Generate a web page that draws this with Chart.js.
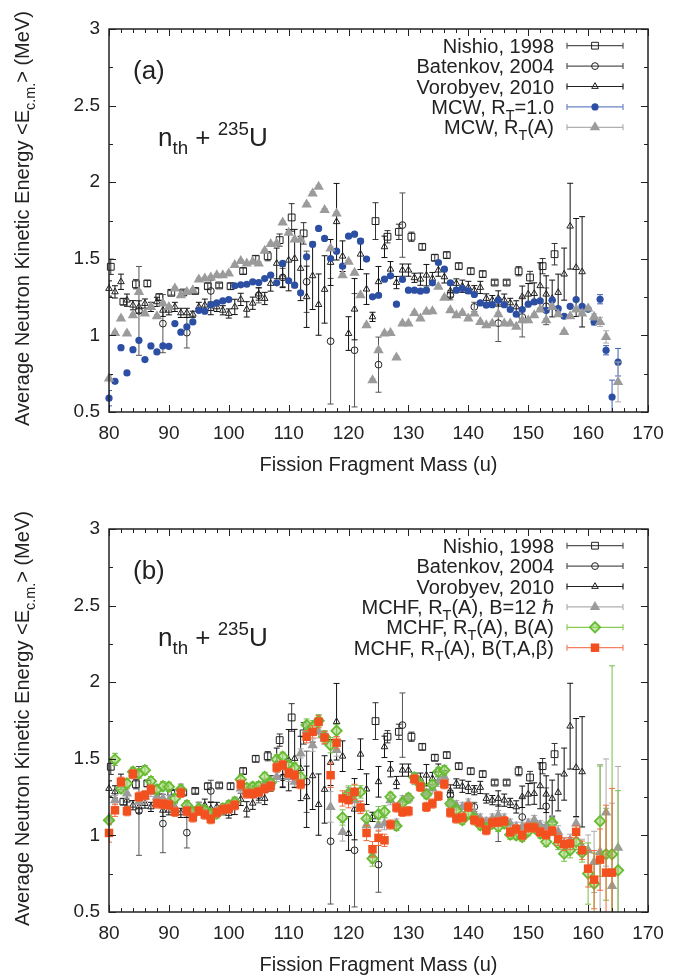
<!DOCTYPE html>
<html>
<head>
<meta charset="utf-8">
<script src="https://cdn.jsdelivr.net/npm/chart.js@4/dist/chart.umd.min.js"></script>
<style>
  body { margin: 0; background: #fff; }
  canvas { display: block; }
</style>
</head>
<body>
<canvas id="chartA" width="696" height="500"></canvas>
<canvas id="chartB" width="696" height="479"></canvas>
<script>
// ---- data ----
var nishioMass = [80.3, 82.4, 84.5, 86.4, 88.4, 90.4, 92.4, 94.4, 96.5, 98.4, 100.3, 102.4, 104.5, 106.5, 108.5, 110.5, 112.5,
	124.5, 126.5, 128.4, 130.5, 132.3, 134.4, 136.4, 138.4, 140.4, 142.4, 144.4, 146.4, 148.4, 150.3, 152.4, 154.4];
var nishioE = [1.448, 1.22, 1.334, 1.339, 1.25, 1.278, 1.28, 1.29, 1.321, 1.326, 1.321, 1.42, 1.50, 1.517, 1.622, 1.77, 1.666,
	1.746, 1.644, 1.676, 1.644, 1.578, 1.507, 1.524, 1.452, 1.419, 1.40, 1.345, 1.345, 1.419, 1.378, 1.452, 1.53];
var nishioErr = [.05, .02, .03, .02, .02, .015, .015, .015, .02, .015, .02, .02, .02, .03, .04, .09, .07,
	.12, .04, .05, .03, .02, .02, .02, .02, .02, .02, .015, .015, .03, .04, .05, .07];

var batenkovMass = [85, 89, 93, 97, 105, 109, 113, 117, 121, 125, 129, 137, 141, 145, 149, 153];
var batenkovE = [1.16, 1.077, 1.018, 1.29, 1.262, 1.378, 1.35, .962, .903, .809, 1.72, 1.262, 1.186, 1.08, 1.12, 1.19];
var batenkovErr = [.29, .19, .1, .07, .05, .06, .2, .41, .37, .18, .21, .03, .03, .12, .13, .12];

var vorobyevMass = [80, 81, 82, 83, 84, 85, 86, 87, 88, 89, 90, 91, 92, 93, 94, 95, 96, 97, 98, 99,
	100, 101, 102, 103, 104, 105, 106, 107, 108, 109, 110, 111, 112, 113, 114, 115, 116, 117, 118, 119,
	120, 121, 122, 123, 124, 125, 126, 127, 128, 129, 130, 131, 132, 133, 134, 135, 136, 137, 138, 139,
	140, 141, 142, 143, 144, 145, 146, 147, 148, 149, 150, 151, 152, 153, 154, 155, 156, 157, 158, 159];
var vorobyevE = [1.306, 1.284, 1.35, 1.23, 1.197, 1.186, 1.208, 1.186, 1.219, 1.164,
	1.164, 1.186, 1.147, 1.147, 1.138, 1.186, 1.197, 1.175, 1.186, 1.164,
	1.143, 1.186, 1.235, 1.17, 1.21, 1.27, 1.241, 1.339, 1.47, 1.382,
	1.491, 1.502, 1.437, 1.252, 1.389, 1.201, 1.30, 1.476, 1.742, 1.517,
	1.012, 1.171, 1.53, 1.302, 1.121, 1.35, 1.578, 1.432, 1.345, 1.426,
	1.426, 1.376, 1.367, 1.393, 1.371, 1.426, 1.382, 1.29, 1.339, 1.321,
	1.313, 1.295, 1.313, 1.241, 1.23, 1.241, 1.23, 1.212, 1.186, 1.252,
	1.269, 1.273, 1.324, 1.269, 1.241, 1.28, 1.40, 1.713, 1.443, 1.415];
var vorobyevErr = [.05, .04, .05, .04, .03, .04, .03, .03, .03, .04,
	.03, .03, .03, .03, .02, .03, .04, .04, .03, .03,
	.03, .05, .04, .05, .04, .04, .04, .05, .1, .07,
	.2, .19, .21, .2, .22, .2, .22, .15, .25, .1,
	.11, .2, .1, .1, .03, .1, .07, .05, .04, .04,
	.04, .03, .04, .07, .04, .04, .04, .04, .03, .04,
	.04, .03, .04, .03, .03, .05, .04, .03, .04, .07,
	.07, .07, .15, .12, .12, .12, .17, .28, .32, .36];

// model calculations, masses 80..165
var modelMass = [80, 81, 82, 83, 84, 85, 86, 87, 88, 89, 90, 91, 92, 93, 94, 95, 96, 97, 98, 99,
	100, 101, 102, 103, 104, 105, 106, 107, 108, 109, 110, 111, 112, 113, 114, 115, 116, 117, 118, 119,
	120, 121, 122, 123, 124, 125, 126, 127, 128, 129, 130, 131, 132, 133, 134, 135, 136, 137, 138, 139,
	140, 141, 142, 143, 144, 145, 146, 147, 148, 149, 150, 151, 152, 153, 154, 155, 156, 157, 158, 159,
	160, 161, 162, 163, 164, 165];

// panel (a)
var mcwR1 = [.59, .70, .92, .755, .907, .968, .842, .931, .892, .931,
	.929, 1.077, 1.021, 1.056, 1.088, 1.164, 1.158, 1.20, 1.212, 1.225,
	1.234, 1.324, 1.33, 1.334, 1.35, 1.345, 1.371, 1.393, 1.343, 1.47,
	1.356, 1.328, 1.278, 1.513, 1.594, 1.698, 1.633, 1.502, 1.55, 1.452,
	1.648, 1.661, 1.615, 1.498, 1.252, 1.262, 1.367, 1.389, 1.204, 1.365,
	1.295, 1.295, 1.289, 1.295, 1.343, 1.476, 1.432, 1.343, 1.295, 1.306,
	1.291, 1.267, 1.212, 1.197, 1.20, 1.23, 1.20, 1.169, 1.138, 1.169,
	1.204, 1.219, 1.225, 1.164, 1.23, 1.175, 1.125, 1.19, 1.234, 1.19,
	1.17, 1.088, 1.236, .903, .598, .825];
var mcwR1Err = [.05, .01, .01, .01, .01, .01, .01, .01, .01, .01,
	.01, .01, .01, .01, .01, .01, .01, .01, .01, .01,
	.01, .01, .01, .01, .01, .01, .01, .01, .01, .01,
	.01, .01, .01, .01, .01, .01, .01, .01, .01, .01,
	.01, .01, .01, .01, .01, .01, .01, .01, .01, .01,
	.01, .01, .01, .01, .01, .01, .01, .01, .01, .01,
	.01, .01, .01, .01, .01, .01, .01, .01, .01, .01,
	.01, .01, .01, .01, .01, .01, .01, .01, .01, .01,
	.01, .02, .03, .03, .11, .09];
var mcwRA = [.718, 1.016, 1.11, 1.012, 1.132, 1.284, 1.143, 1.186, 1.125, 1.208,
	1.186, 1.306, 1.262, 1.284, 1.295, 1.365, 1.371, 1.378, 1.393, 1.393,
	1.404, 1.459, 1.485, 1.47, 1.48, 1.47, 1.552, 1.596, 1.60, 1.737,
	1.67, 1.626, 1.626, 1.855, 1.927, 1.97, 1.818, 1.568, 1.796, 1.393,
	1.48, 1.409, 1.262, 1.066, .707, .903, 1.012, 1.016, .855, 1.077,
	1.077, 1.147, 1.11, 1.154, 1.158, 1.317, 1.245, 1.164, 1.132, 1.147,
	1.11, 1.143, 1.088, 1.066, 1.077, 1.138, 1.077, 1.077, 1.056, 1.099,
	1.099, 1.132, 1.169, 1.099, 1.186, 1.138, 1.023, 1.125, 1.169, 1.143,
	1.175, 1.121, 1.088, .99, null, .696];
var mcwRAErr = [.02, .01, .01, .01, .01, .01, .01, .01, .01, .01,
	.01, .01, .01, .01, .01, .01, .01, .01, .01, .01,
	.01, .01, .01, .01, .01, .01, .01, .01, .01, .01,
	.01, .01, .01, .01, .01, .01, .01, .01, .01, .01,
	.01, .01, .01, .01, .01, .01, .01, .01, .01, .01,
	.01, .01, .01, .01, .01, .01, .01, .01, .01, .01,
	.01, .01, .01, .01, .01, .01, .01, .01, .01, .01,
	.01, .01, .01, .01, .01, .01, .01, .01, .01, .01,
	.01, .02, .03, .04, 0, .13];

// panel (b)
var mchfB12 = [1.11, 1.23, 1.328, 1.273, 1.404, 1.219, 1.252, 1.284, 1.252, 1.241,
	1.23, 1.175, 1.306, 1.186, 1.143, 1.186, 1.154, 1.121, 1.154, 1.175,
	1.186, 1.219, 1.306, 1.284, 1.295, 1.295, 1.339, 1.343, 1.382, 1.459,
	1.382, 1.35, 1.535, 1.687, 1.589, 1.676, 1.633, 1.186, 1.557, 1.023,
	1.273, 1.23, 1.186, 1.066, .87, 1.066, 1.077, 1.23, 1.077, 1.23,
	1.241, 1.361, 1.328, 1.273, 1.306, 1.35, 1.382, 1.208, 1.197, 1.186,
	1.208, 1.143, 1.11, 1.088, 1.11, 1.132, 1.11, 1.077, 1.056, 1.056,
	1.077, 1.10, 1.066, 1.056, 1.10, 1.023, .947, .968, 1.077, .925,
	.903, .827, .892, 1.149, .67, .92];
var mchfB12Err = [.03, .03, .03, .03, .03, .03, .03, .03, .03, .03,
	.03, .03, .03, .03, .03, .03, .03, .03, .03, .03,
	.03, .03, .03, .03, .03, .03, .03, .03, .03, .03,
	.03, .03, .03, .04, .04, .04, .04, .1, .04, .06,
	.04, .04, .04, .04, .05, .04, .04, .03, .03, .03,
	.03, .03, .03, .03, .03, .03, .03, .03, .03, .03,
	.03, .03, .03, .03, .03, .03, .03, .03, .03, .03,
	.03, .03, .03, .03, .03, .04, .04, .04, .04, .05,
	.1, .2, .57, .35, .54, .53];
var mchfBA = [1.099, 1.496, 1.306, 1.339, 1.415, 1.404, 1.426, 1.354, 1.30, 1.321,
	1.317, 1.241, 1.30, 1.197, 1.154, 1.175, 1.164, 1.143, 1.143, 1.175,
	1.197, 1.219, 1.365, 1.31, 1.317, 1.321, 1.382, 1.343, 1.496, 1.513,
	1.459, 1.443, 1.382, 1.72, 1.709, 1.748, 1.644, 1.589, 1.683, 1.117,
	1.273, 1.278, 1.284, 1.11, .849, 1.138, 1.154, 1.252, 1.062, 1.212,
	1.245, 1.378, 1.332, 1.269, 1.332, 1.415, 1.425, 1.208, 1.164, 1.10,
	1.143, 1.11, 1.066, 1.045, 1.077, 1.056, 1.077, 1.005, 1.001, .99,
	1.027, 1.049, 1.012, .958, 1.082, .947, .881, .903, .958, .886,
	.751, .685, 1.093, .877, .877, .772];
var mchfBAErr = [.03, .04, .03, .03, .03, .03, .03, .03, .03, .03,
	.03, .03, .03, .03, .03, .03, .03, .03, .03, .03,
	.03, .03, .03, .03, .03, .03, .03, .03, .03, .03,
	.03, .03, .03, .04, .04, .04, .04, .05, .04, .05,
	.05, .05, .04, .05, .05, .05, .04, .03, .03, .03,
	.03, .03, .03, .03, .03, .03, .03, .03, .03, .03,
	.03, .03, .03, .03, .03, .03, .03, .03, .03, .03,
	.03, .03, .03, .03, .03, .04, .05, .05, .05, .06,
	.2, .2, .36, .3, 1.23, .52];
var mchfBTAb = [1.016, 1.164, 1.35, 1.158, 1.40, 1.252, 1.262, 1.30, 1.208, 1.204,
	1.20, 1.154, 1.278, 1.158, 1.117, 1.16, 1.136, 1.106, 1.149, 1.169,
	1.175, 1.197, 1.332, 1.273, 1.273, 1.284, 1.306, 1.321, 1.443, 1.459,
	1.408, 1.393, 1.334, 1.644, 1.676, 1.742, 1.639, 1.393, 1.605, 1.241,
	1.23, 1.284, 1.182, 1.016, .91, .984, .968, 1.071, 1.182, 1.154,
	1.158, 1.367, 1.317, 1.186, 1.208, 1.258, 1.334, 1.149, 1.11, 1.117,
	1.186, 1.099, 1.084, 1.034, 1.084, 1.088, 1.093, 1.023, 1.04, 1.001,
	1.051, 1.051, 1.023, 1.005, 1.029, .975, .942, .947, 1.023, .903,
	.783, .711, .842, .757, .757, null];
var mchfBTAbErr = [.06, .04, .03, .03, .03, .03, .03, .03, .03, .03,
	.03, .03, .03, .03, .03, .03, .03, .03, .03, .03,
	.03, .03, .03, .03, .03, .03, .03, .03, .03, .03,
	.03, .03, .03, .04, .04, .04, .04, .08, .04, .05,
	.05, .05, .04, .05, .05, .05, .04, .03, .03, .03,
	.03, .03, .03, .03, .03, .03, .03, .03, .03, .03,
	.03, .03, .03, .03, .03, .03, .03, .03, .03, .03,
	.03, .03, .03, .03, .03, .04, .04, .04, .04, .06,
	.12, .19, .2, .44, .55, 0];

var FONT = '"Liberation Sans", Arial, Helvetica, sans-serif';
var INK = '#222';

// pair masses with values, drop missing points
function pts(mass, vals, errs) {
	var out = { data: [], err: [] };
	for (var i = 0; i < mass.length; i++) {
		if (vals[i] == null) continue;
		out.data.push({ x: mass[i], y: vals[i] });
		out.err.push(errs[i]);
	}
	return out;
}

function series(label, p, style) {
	return {
		label: label,
		data: p.data,
		err: p.err,
		errColor: style.errColor,
		lineColor: style.lineColor,
		showLine: false,
		clip: false,
		order: style.order,
		pointStyle: style.shape,
		pointRadius: style.r,
		pointHoverRadius: style.r,
		pointBackgroundColor: style.fill,
		pointBorderColor: style.stroke,
		pointBorderWidth: style.bw
	};
}

var NONE = 'rgba(0,0,0,0)';
function expSets(base) {
	return [
		series('Nishio, 1998', pts(nishioMass, nishioE, nishioErr),
			{ shape: 'rect', r: 4.8, fill: NONE, stroke: INK, bw: 1, errColor: '#333', lineColor: '#555', order: base + 2 }),
		series('Batenkov, 2004', pts(batenkovMass, batenkovE, batenkovErr),
			{ shape: 'circle', r: 3.4, fill: NONE, stroke: INK, bw: 1, errColor: '#555', lineColor: '#555', order: base + 1 }),
		series('Vorobyev, 2010', pts(vorobyevMass, vorobyevE, vorobyevErr),
			{ shape: 'triangle', r: 3.8, fill: NONE, stroke: INK, bw: 1, errColor: '#111', lineColor: '#222', order: base })
	];
}

// rich text with _{sub} and ^{sup}
function drawRich(ctx, str, x, y, size, align) {
	var parts = [], re = /([_^])\{([^}]*)\}/g, last = 0, m;
	while ((m = re.exec(str))) {
		if (m.index > last) parts.push({ t: str.slice(last, m.index), k: '' });
		parts.push({ t: m[2], k: m[1] });
		last = re.lastIndex;
	}
	if (last < str.length) parts.push({ t: str.slice(last), k: '' });
	var total = 0;
	parts.forEach(function (p) {
		p.size = p.k ? size * 0.72 : size;
		ctx.font = p.size + 'px ' + FONT;
		p.w = ctx.measureText(p.t).width;
		total += p.w;
	});
	var cx = align === 'right' ? x - total : (align === 'center' ? x - total / 2 : x);
	ctx.textAlign = 'left';
	ctx.textBaseline = 'alphabetic';
	parts.forEach(function (p) {
		ctx.font = p.size + 'px ' + FONT;
		var dy = p.k === '_' ? size * 0.3 : (p.k === '^' ? -size * 0.42 : 0);
		ctx.fillText(p.t, cx, y + dy);
		cx += p.w;
	});
}

// error bars, drawn just under each dataset's markers
var errorBars = {
	id: 'errorBars',
	beforeDatasetDraw: function (chart, args) {
		var ds = chart.data.datasets[args.index];
		if (!ds.err) return;
		var ctx = chart.ctx, a = chart.chartArea, xs = chart.scales.x, ys = chart.scales.y;
		ctx.save();
		ctx.beginPath();
		ctx.rect(a.left, a.top, a.right - a.left, a.bottom - a.top);
		ctx.clip();
		ctx.strokeStyle = ds.errColor;
		ctx.lineWidth = 1;
		ds.data.forEach(function (p, i) {
			var e = ds.err[i];
			if (!e) return;
			var px = xs.getPixelForValue(p.x);
			var y1 = ys.getPixelForValue(p.y + e), y2 = ys.getPixelForValue(p.y - e);
			ctx.beginPath();
			ctx.moveTo(px, y1); ctx.lineTo(px, y2);
			ctx.moveTo(px - 3, y1); ctx.lineTo(px + 3, y1);
			ctx.moveTo(px - 3, y2); ctx.lineTo(px + 3, y2);
			ctx.stroke();
		});
		ctx.restore();
	}
};

// frame with inward ticks, titles, legend and panel notes
function decor(tag) {
	return {
		id: 'decor' + tag,
		afterDraw: function (chart) {
			var ctx = chart.ctx, a = chart.chartArea, xs = chart.scales.x, ys = chart.scales.y;
			ctx.save();
			ctx.strokeStyle = INK;
			ctx.lineWidth = 1;
			ctx.beginPath();
			for (var v = xs.min; v <= xs.max + 1e-9; v += 2) {
				var px = Math.round(xs.getPixelForValue(v)) + 0.5;
				var len = (v % 10 === 0) ? 7 : 4;
				ctx.moveTo(px, a.bottom); ctx.lineTo(px, a.bottom - len);
				ctx.moveTo(px, a.top); ctx.lineTo(px, a.top + len);
			}
			for (var k = 0; ys.min + k * 0.25 <= ys.max + 1e-9; k++) {
				var py = Math.round(ys.getPixelForValue(ys.min + k * 0.25)) + 0.5;
				var l2 = (k % 2 === 0) ? 7 : 4;
				ctx.moveTo(a.left, py); ctx.lineTo(a.left + l2, py);
				ctx.moveTo(a.right, py); ctx.lineTo(a.right - l2, py);
			}
			ctx.stroke();
			ctx.lineWidth = 1.5;
			ctx.strokeRect(a.left, a.top, a.right - a.left, a.bottom - a.top);

			ctx.fillStyle = INK;
			// axis titles
			drawRich(ctx, 'Fission Fragment Mass (u)', (a.left + a.right) / 2, 471, 20, 'center');
			ctx.save();
			ctx.translate(29, (a.top + a.bottom) / 2 - 2);
			ctx.rotate(-Math.PI / 2);
			drawRich(ctx, 'Average Neutron Kinetic Energy <E_{c.m.}> (MeV)', 0, 0, 20, 'center');
			ctx.restore();

			// panel notes
			drawRich(ctx, tag, 133, 79, 26, 'left');
			drawRich(ctx, 'n_{th} + ^{235}U', 158, 146, 26, 'left');

			// legend
			chart.data.datasets.forEach(function (ds, i) {
				var yc = 45.7 + i * 20.4;
				ctx.fillStyle = INK;
				drawRich(ctx, ds.label, 554, yc + 7, 20, 'right');
				ctx.strokeStyle = ds.lineColor;
				ctx.lineWidth = 1.2;
				ctx.beginPath();
				ctx.moveTo(567, yc); ctx.lineTo(623, yc);
				ctx.moveTo(567, yc - 3); ctx.lineTo(567, yc + 3);
				ctx.moveTo(623, yc - 3); ctx.lineTo(623, yc + 3);
				ctx.stroke();
				ctx.fillStyle = ds.pointBackgroundColor;
				ctx.strokeStyle = ds.pointBorderColor;
				ctx.lineWidth = ds.pointBorderWidth;
				Chart.helpers.drawPoint(ctx, {
					pointStyle: ds.pointStyle, radius: ds.pointRadius, rotation: 0, borderWidth: ds.pointBorderWidth
				}, 595, yc);
			});
			ctx.restore();
		}
	};
}

function makeChart(id, height, datasets, tag) {
	var axisFont = { family: FONT, size: 19 };
	return new Chart(document.getElementById(id), {
		type: 'scatter',
		data: { datasets: datasets },
		options: {
			responsive: false,
			animation: false,
			events: [],
			layout: { padding: { top: 29, right: 48, left: 0, bottom: 0 } },
			plugins: { legend: { display: false }, tooltip: { enabled: false } },
			scales: {
				x: {
					type: 'linear', min: 80, max: 170,
					grid: { display: false, drawTicks: false },
					border: { display: false },
					ticks: { stepSize: 10, padding: 10, color: INK, font: axisFont, maxRotation: 0 },
					afterFit: function (s) { s.height = height - 412; }
				},
				y: {
					type: 'linear', min: 0.5, max: 3,
					grid: { display: false, drawTicks: false },
					border: { display: false },
					ticks: {
						stepSize: 0.5, padding: 9, color: INK, font: axisFont,
						callback: function (v) { return String(Math.round(v * 100) / 100); }
					},
					afterFit: function (s) { s.width = 109; }
				}
			}
		},
		plugins: [errorBars, decor(tag)]
	});
}

// panel (a)
var setsA = expSets(3).concat([
	series('MCW, R_{T}=1.0', pts(modelMass, mcwR1, mcwR1Err),
		{ shape: 'circle', r: 3.6, fill: '#2c4fa3', stroke: '#2c4fa3', bw: 0, errColor: '#3d5fb3', lineColor: '#6a86c8', order: 2 }),
	series('MCW, R_{T}(A)', pts(modelMass, mcwRA, mcwRAErr),
		{ shape: 'triangle', r: 6, fill: '#9b9b9b', stroke: '#9b9b9b', bw: 0, errColor: '#aaa', lineColor: '#b0b0b0', order: 1 })
]);
makeChart('chartA', 500, setsA, '(a)');

// panel (b)
var setsB = expSets(4).concat([
	series('MCHF, R_{T}(A), B=12 ℏ', pts(modelMass, mchfB12, mchfB12Err),
		{ shape: 'triangle', r: 6, fill: '#9b9b9b', stroke: '#9b9b9b', bw: 0, errColor: '#aaa', lineColor: '#b0b0b0', order: 3 }),
	series('MCHF, R_{T}(A), B(A)', pts(modelMass, mchfBA, mchfBAErr),
		{ shape: 'rectRot', r: 5.2, fill: 'rgba(150,212,100,0.55)', stroke: '#66bb33', bw: 1.8, errColor: '#77c044', lineColor: '#88cc55', order: 2 }),
	series('MCHF, R_{T}(A), B(T,A,β)', pts(modelMass, mchfBTAb, mchfBTAbErr),
		{ shape: 'rect', r: 6, fill: '#f2501e', stroke: '#f2501e', bw: 0, errColor: '#f26b3c', lineColor: '#f58060', order: 1 })
]);
makeChart('chartB', 479, setsB, '(b)');
</script>
</body>
</html>
